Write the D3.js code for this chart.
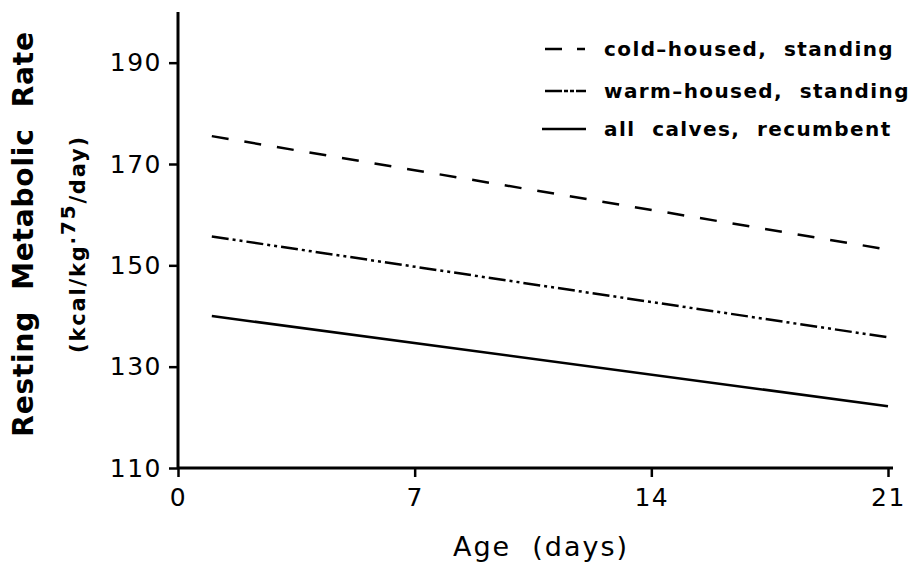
<!DOCTYPE html>
<html>
<head>
<meta charset="utf-8">
<script src="https://cdn.jsdelivr.net/npm/d3@7"></script>
<style>
  body { margin: 0; background: #fff; }
  text { font-family: "DejaVu Sans", sans-serif; fill: #000; white-space: pre; }
</style>
</head>
<body>
<div class="rmr-plot"></div>
<script>
// regression lines, age in days vs resting metabolic rate
const days = [1, 21];
const coldStanding = [175.5, 153.1];
const warmStanding = [155.7, 135.8];
const allRecumbent = [140.0, 122.2];

const seriesNames = ['cold\u2013housed,  standing', 'warm\u2013housed,  standing', 'all  calves,  recumbent'];
const xTicks = [0, 7, 14, 21];
const yTicks = [110, 130, 150, 170, 190];

const width = 917;
const height = 564;
const plotLeft = 178, plotRight = 888, plotTop = 12, plotBottom = 468;

const svg = d3
    .select('.rmr-plot')
    .append('svg')
    .attr('width', width)
    .attr('height', height);

const x = d3.scaleLinear().domain([0, 21]).range([plotLeft, plotRight]);
const y = d3.scaleLinear().domain([110, 200]).range([plotBottom, plotTop]);

const series = [
    {name: seriesNames[0], values: coldStanding, dash: '17,16', key: '17,15,8,20', x1: 545},
    {name: seriesNames[1], values: warmStanding, dash: '17,4,3,4,3,4', key: '17,2,4,2,4,2,20', x1: 545},
    {name: seriesNames[2], values: allRecumbent, dash: null, key: null, x1: 542}
];

// axes
const xAxis = svg.append('g')
    .attr('transform', `translate(0,${plotBottom})`)
    .call(d3.axisBottom(x).tickValues(xTicks).tickSize(9).tickPadding(11).tickSizeOuter(0));
const yAxis = svg.append('g')
    .attr('transform', `translate(${plotLeft},0)`)
    .call(d3.axisLeft(y).tickValues(yTicks).tickSize(9).tickPadding(7).tickSizeOuter(0));

[xAxis, yAxis].forEach(g => {
    g.select('.domain').remove();
    g.selectAll('line').attr('stroke', '#000').attr('stroke-width', 2.5);
    g.selectAll('text').attr('font-size', 25).attr('letter-spacing', 1.5).attr('fill', '#000');
});

svg.append('line')
    .attr('x1', plotLeft).attr('x2', 893)
    .attr('y1', plotBottom).attr('y2', plotBottom)
    .attr('stroke', '#000').attr('stroke-width', 3);
svg.append('line')
    .attr('x1', plotLeft).attr('x2', plotLeft)
    .attr('y1', plotTop).attr('y2', plotBottom)
    .attr('stroke', '#000').attr('stroke-width', 3);

// lines
const line = d3.line()
    .x((d, i) => x(days[i]))
    .y(d => y(d));

svg.selectAll('.series')
    .data(series)
    .enter()
    .append('path')
    .attr('class', 'series')
    .attr('d', d => line(d.values))
    .attr('fill', 'none')
    .attr('stroke', '#000')
    .attr('stroke-width', 2.5)
    .attr('stroke-dasharray', d => d.dash);

// legend
const legendY = [49, 91, 129];
const legend = svg.selectAll('.legend')
    .data(series)
    .enter()
    .append('g')
    .attr('class', 'legend')
    .attr('transform', (d, i) => `translate(0,${legendY[i]})`);

legend.append('line')
    .attr('x1', d => d.x1)
    .attr('x2', 586)
    .attr('y1', 0).attr('y2', 0)
    .attr('stroke', '#000')
    .attr('stroke-width', 2.5)
    .attr('stroke-dasharray', d => d.key);

legend.append('text')
    .attr('x', 604)
    .attr('y', 7)
    .attr('font-size', 20)
    .attr('font-weight', 'bold')
    .attr('letter-spacing', 1.4)
    .text(d => d.name);

// axis titles
svg.append('text')
    .attr('transform', 'translate(33,234) rotate(-90)')
    .attr('text-anchor', 'middle')
    .attr('font-size', 28)
    .attr('font-weight', 'bold')
    .attr('letter-spacing', 0.8)
    .text('Resting  Metabolic  Rate');

const sub = svg.append('text')
    .attr('transform', 'translate(85,244) rotate(-90)')
    .attr('text-anchor', 'middle')
    .attr('font-size', 21)
    .attr('font-weight', 'bold')
    .attr('letter-spacing', 1.8);
sub.append('tspan').text('(kcal/kg');
sub.append('tspan').attr('dy', -10).attr('font-size', 20).text('.75');
sub.append('tspan').attr('dy', 10).text('/day)');

svg.append('text')
    .attr('x', 541)
    .attr('y', 556)
    .attr('text-anchor', 'middle')
    .attr('font-size', 27)
    .attr('letter-spacing', 2)
    .text('Age  (days)');
</script>
</body>
</html>
